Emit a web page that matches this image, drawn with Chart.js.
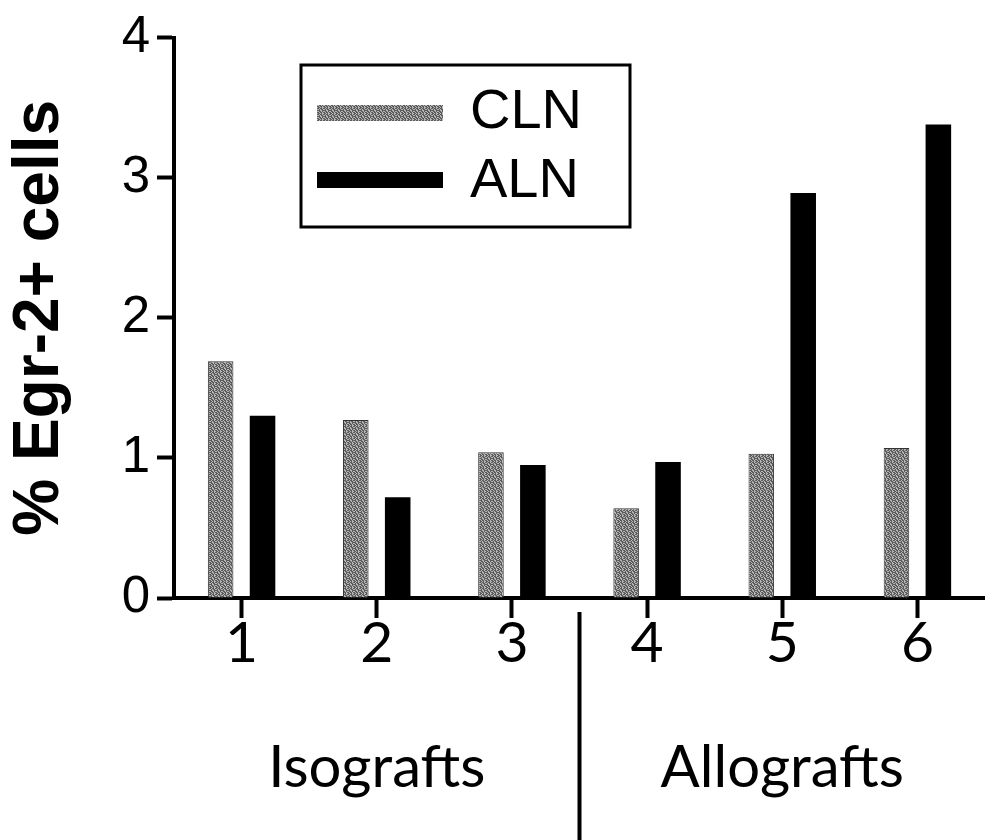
<!DOCTYPE html>
<html><head><meta charset="utf-8">
<script src="https://cdn.jsdelivr.net/npm/chart.js@4.4.0/dist/chart.umd.min.js"></script>
<style>html,body{margin:0;padding:0;background:#fff;}#wrap{width:985px;height:840px;position:relative;}</style>
</head><body><div id="wrap"><canvas id="c" width="985" height="840"></canvas></div>
<script>
const categories = ["1", "2", "3", "4", "5", "6"];
const seriesNames = ["CLN", "ALN"];
const clnValues = [1.69, 1.27, 1.04, 0.64, 1.03, 1.07];
const alnValues = [1.30, 0.72, 0.95, 0.97, 2.89, 3.38];
const yTickValues = [0, 1, 2, 3, 4];
const yAxisTitle = "% Egr-2+ cells";
const groupLabels = ["Isografts", "Allografts"];
const groupStart = [0, 3];
const groupEnd = [2, 5];

// stippled gray texture (deterministic bitmap)
function makeStipple() {
  const bits = [
    1,0,1,1,0,1,
    0,1,0,1,1,0,
    1,1,0,0,1,1,
    0,1,1,0,1,0,
    1,0,1,1,0,1,
    1,1,0,1,0,0
  ];
  const n = 6;
  const cv = document.createElement('canvas');
  cv.width = n; cv.height = n;
  const cx = cv.getContext('2d');
  for (let i = 0; i < bits.length; i++) {
    cx.fillStyle = bits[i] ? '#5c5c5c' : '#b6b6b6';
    cx.fillRect(i % n, Math.floor(i / n), 1, 1);
  }
  return cx.createPattern(cv, 'repeat');
}
const ctx = document.getElementById('c').getContext('2d');
const grayFill = makeStipple();
const colors = [grayFill, '#000000'];

const FONT_ARIAL = '"Liberation Sans", Arial, Helvetica, sans-serif';
const FONT_HUMANIST = 'Lato, "Open Sans", sans-serif';

const overlay = {
  id: 'overlay',
  afterDraw(chart) {
    const c = chart.ctx;
    const x = chart.scales.x;
    c.save();
    // legend box
    c.strokeStyle = '#000';
    c.lineWidth = 3;
    c.strokeRect(301, 65, 329, 162);
    const swY = [105, 172];
    const txY = [113, 182];
    for (let i = 0; i < seriesNames.length; i++) {
      c.fillStyle = colors[i];
      c.fillRect(317, swY[i], 126, 16);
      c.fillStyle = '#000';
      c.font = '56px ' + FONT_ARIAL;
      c.textBaseline = 'middle';
      c.textAlign = 'left';
      c.fillText(seriesNames[i], 470, txY[i]);
    }
    // group labels
    c.font = '58px ' + FONT_HUMANIST;
    c.textAlign = 'center';
    c.textBaseline = 'middle';
    c.fillStyle = '#000';
    for (let g = 0; g < groupLabels.length; g++) {
      const cxp = (x.getPixelForValue(groupStart[g]) + x.getPixelForValue(groupEnd[g])) / 2;
      c.fillText(groupLabels[g], cxp, 768);
    }
    // separator between groups
    const sep = (x.getPixelForValue(groupEnd[0]) + x.getPixelForValue(groupStart[1])) / 2;
    c.beginPath();
    c.strokeStyle = '#000';
    c.lineWidth = 4;
    c.moveTo(sep, 612);
    c.lineTo(sep, 840);
    c.stroke();
    c.restore();
  }
};

new Chart(ctx, {
  type: 'bar',
  data: {
    labels: categories,
    datasets: [
      { label: seriesNames[0], data: clnValues, backgroundColor: colors[0], borderColor: '#333', borderWidth: 1,
        categoryPercentage: 0.62, barPercentage: 0.61 },
      { label: seriesNames[1], data: alnValues, backgroundColor: colors[1], borderColor: '#000', borderWidth: 0,
        categoryPercentage: 0.62, barPercentage: 0.61 }
    ]
  },
  options: {
    responsive: false,
    devicePixelRatio: 1,
    animation: false,
    layout: { padding: { top: 28, right: 0, bottom: 0, left: 0 } },
    plugins: { legend: { display: false }, tooltip: { enabled: false } },
    scales: {
      x: {
        offset: true,
        grid: { display: true, drawOnChartArea: false, offset: false, color: '#000', tickColor: '#000', tickLength: 20, tickWidth: 4 },
        border: { display: true, color: '#000', width: 4 },
        ticks: { color: '#000', font: { family: FONT_HUMANIST, size: 57 }, padding: -9, maxRotation: 0 },
        afterFit(s) { s.height = 242; }
      },
      y: {
        min: 0, max: 4,
        afterBuildTicks(s) { s.ticks = yTickValues.map(v => ({ value: v })); },
        grid: { display: true, drawOnChartArea: false, color: '#000', tickColor: '#000', tickLength: 17, tickWidth: 4 },
        border: { display: true, color: '#000', width: 4 },
        ticks: { color: '#000', font: { family: FONT_ARIAL, size: 51 }, padding: 7 },
        title: { display: true, text: yAxisTitle, color: '#000', font: { family: FONT_ARIAL, size: 64, weight: 'bold' }, padding: { top: 2, bottom: 0 } },
        afterFit(s) { s.width = 174; }
      }
    }
  },
  plugins: [overlay]
});
</script>
</body></html>
